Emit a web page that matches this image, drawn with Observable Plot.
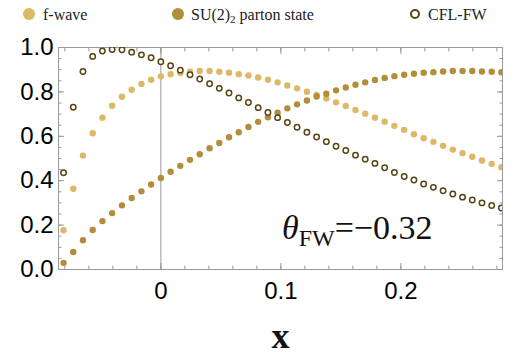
<!DOCTYPE html>
<html><head><meta charset="utf-8">
<script src="https://cdn.jsdelivr.net/npm/d3@7"></script>
<script src="https://cdn.jsdelivr.net/npm/@observablehq/plot@0.6"></script>
<style>
body{margin:0;background:#fff;}
#wrap{width:513px;height:352px;position:relative;overflow:hidden;}
#legend{position:relative;height:28px;width:513px;font-family:"Liberation Serif",serif;font-size:16px;}
.sw{position:absolute;border-radius:50%;box-sizing:border-box;}
.lt{position:absolute;top:5px;line-height:20px;white-space:nowrap;color:#222;}
.lt sub{font-size:11px;vertical-align:-3px;line-height:0;}
</style></head><body>
<div id="wrap"><div id="legend"></div><div id="chart"></div></div>
<script>
const xs = [-0.0811, -0.0730, -0.0649, -0.0568, -0.0487, -0.0406, -0.0324, -0.0243, -0.0162, -0.0081,
  0, 0.0081, 0.0162, 0.0243, 0.0324, 0.0406, 0.0487, 0.0568, 0.0649, 0.0730,
  0.0811, 0.0892, 0.0973, 0.1054, 0.1135, 0.1217, 0.1298, 0.1379, 0.1460, 0.1541,
  0.1622, 0.1703, 0.1784, 0.1865, 0.1946, 0.2028, 0.2109, 0.2190, 0.2271, 0.2352,
  0.2433, 0.2514, 0.2595, 0.2676, 0.2757, 0.2838];
const fWave = [0.177, 0.364, 0.513, 0.614, 0.684, 0.738, 0.778, 0.810, 0.836, 0.855,
  0.870, 0.880, 0.885, 0.891, 0.894, 0.894, 0.891, 0.886, 0.880, 0.874,
  0.865, 0.855, 0.843, 0.829, 0.816, 0.801, 0.786, 0.770, 0.753, 0.737,
  0.719, 0.702, 0.684, 0.666, 0.647, 0.629, 0.609, 0.591, 0.575, 0.557,
  0.540, 0.524, 0.508, 0.491, 0.476, 0.461];
const su2Parton = [0.030, 0.079, 0.132, 0.178, 0.218, 0.254, 0.289, 0.322, 0.352, 0.383,
  0.412, 0.440, 0.467, 0.494, 0.519, 0.546, 0.570, 0.596, 0.618, 0.642,
  0.665, 0.686, 0.706, 0.726, 0.744, 0.761, 0.779, 0.792, 0.807, 0.820,
  0.832, 0.843, 0.854, 0.863, 0.871, 0.877, 0.882, 0.886, 0.889, 0.892,
  0.894, 0.894, 0.894, 0.892, 0.891, 0.888];
const cflFW = [0.436, 0.731, 0.892, 0.960, 0.984, 0.991, 0.990, 0.979, 0.967, 0.954,
  0.936, 0.918, 0.898, 0.877, 0.858, 0.837, 0.816, 0.795, 0.773, 0.752,
  0.729, 0.707, 0.684, 0.662, 0.641, 0.618, 0.597, 0.576, 0.555, 0.536,
  0.515, 0.497, 0.478, 0.458, 0.437, 0.419, 0.403, 0.385, 0.370, 0.355,
  0.340, 0.326, 0.313, 0.300, 0.288, 0.277];
const seriesNames = ["f-wave", "SU(2)|2| parton state", "CFL-FW"];
const xTickLabels = [0, 0.1, 0.2];
const xMinorTicks = [-0.08, -0.06, -0.04, -0.02, 0, 0.02, 0.04, 0.06, 0.08, 0.1, 0.12, 0.14, 0.16, 0.18, 0.2, 0.22, 0.24, 0.26, 0.28];
const yTickLabels = [0, 0.2, 0.4, 0.6, 0.8, 1.0];
const yMinorTicks = [0, 0.05, 0.1, 0.15, 0.2, 0.25, 0.3, 0.35, 0.4, 0.45, 0.5, 0.55, 0.6, 0.65, 0.7, 0.75, 0.8, 0.85, 0.9, 0.95, 1.0];
const annotationParts = ["θ", "FW", "=−0.32"];
const xLabel = "x";

const colors = {f: "#DDB867", su: "#B38D3A", cfl: "#5B4312"};
const frameGray = "#9a9a9a";

// legend
const legend = document.getElementById("legend");
const legendItems = [
  {name: seriesNames[0], sw: {left: 23, top: 8, size: 12, fill: colors.f}, textLeft: 43},
  {name: seriesNames[1], sw: {left: 172, top: 8, size: 12, fill: colors.su}, textLeft: 191},
  {name: seriesNames[2], sw: {left: 410, top: 9, size: 10, stroke: colors.cfl}, textLeft: 428}
];
for (const it of legendItems) {
  const s = document.createElement("div");
  s.className = "sw";
  s.style.left = it.sw.left + "px"; s.style.top = it.sw.top + "px";
  s.style.width = it.sw.size + "px"; s.style.height = it.sw.size + "px";
  if (it.sw.fill) s.style.background = it.sw.fill;
  else { s.style.border = "2px solid " + it.sw.stroke; s.style.background = "#fff"; }
  legend.appendChild(s);
  const t = document.createElement("div");
  t.className = "lt";
  t.style.left = it.textLeft + "px";
  const parts = it.name.split("|");
  t.appendChild(document.createTextNode(parts[0]));
  if (parts.length > 1) {
    const sb = document.createElement("sub"); sb.textContent = parts[1]; t.appendChild(sb);
    t.appendChild(document.createTextNode(parts[2]));
  }
  legend.appendChild(t);
}

const mk = (ys) => xs.map((x, i) => ({x, y: ys[i]}));
const fmtX = d => d === 0 ? "0" : String(d);
const noLab = {label: null, tickFormat: () => "", stroke: frameGray};

const chart = Plot.plot({
  width: 513,
  height: 324,
  marginTop: 19,
  marginBottom: 83,
  marginLeft: 58,
  marginRight: 11,
  style: {background: "#fff", fontFamily: "Liberation Sans, Arimo, sans-serif", fontSize: "24px", color: "#000"},
  x: {domain: [-0.0853, 0.2847], label: null},
  y: {domain: [0, 1], label: null},
  marks: [
    Plot.ruleX([0], {stroke: frameGray, strokeWidth: 1}),
    // inner ticks
    Plot.axisX({anchor: "bottom", ticks: xTickLabels, tickSize: 6, dy: -6, ...noLab}),
    Plot.axisX({anchor: "bottom", ticks: xMinorTicks, tickSize: 3.5, dy: -3.5, ...noLab}),
    Plot.axisX({anchor: "top", ticks: xTickLabels, tickSize: 6, dy: 6, ...noLab}),
    Plot.axisX({anchor: "top", ticks: xMinorTicks, tickSize: 3.5, dy: 3.5, ...noLab}),
    Plot.axisY({anchor: "left", ticks: yTickLabels, tickSize: 6, dx: 6, ...noLab}),
    Plot.axisY({anchor: "left", ticks: yMinorTicks, tickSize: 3.5, dx: 3.5, ...noLab}),
    Plot.axisY({anchor: "right", ticks: yTickLabels, tickSize: 6, dx: -6, ...noLab}),
    Plot.axisY({anchor: "right", ticks: yMinorTicks, tickSize: 3.5, dx: -3.5, ...noLab}),
    // labels
    Plot.axisX({anchor: "bottom", ticks: xTickLabels, tickSize: 0, tickPadding: 12, tickFormat: fmtX, fill: "#000", label: null}),
    Plot.axisY({anchor: "left", ticks: yTickLabels, tickSize: 0, tickPadding: 5, tickFormat: d3.format(".1f"), fill: "#000", label: null}),
    Plot.frame({stroke: frameGray, strokeWidth: 1}),
    Plot.dot(mk(fWave), {x: "x", y: "y", r: 3.2, fill: colors.f, clip: true}),
    Plot.dot(mk(su2Parton), {x: "x", y: "y", r: 3.2, fill: colors.su, clip: true}),
    Plot.dot(mk(cflFW), {x: "x", y: "y", r: 2.7, fill: "#fff", stroke: colors.cfl, strokeWidth: 1.5, clip: true}),
    Plot.text([annotationParts.join("")], {frameAnchor: "bottom-right", dx: -70, dy: -31, textAnchor: "end", lineAnchor: "bottom",
      fontFamily: "Liberation Serif, serif", fontSize: 34, fill: "#111"}),
    Plot.text([xLabel], {frameAnchor: "bottom", dy: 78, lineAnchor: "bottom", fontFamily: "Liberation Serif, serif",
      fontSize: 36, fontWeight: "bold", fill: "#111"})
  ]
});
document.getElementById("chart").appendChild(chart);

// rich annotation with subscript
const full = annotationParts.join("");
d3.select(chart).selectAll("text").filter(function() { return this.textContent === full; }).each(function() {
  const tx = d3.select(this);
  tx.text(null);
  tx.append("tspan").attr("font-style", "italic").text(annotationParts[0]);
  tx.append("tspan").attr("font-size", 24).attr("dy", 7).text(annotationParts[1]);
  tx.append("tspan").attr("dy", -7).text(annotationParts[2]);
});
</script>
</body></html>
